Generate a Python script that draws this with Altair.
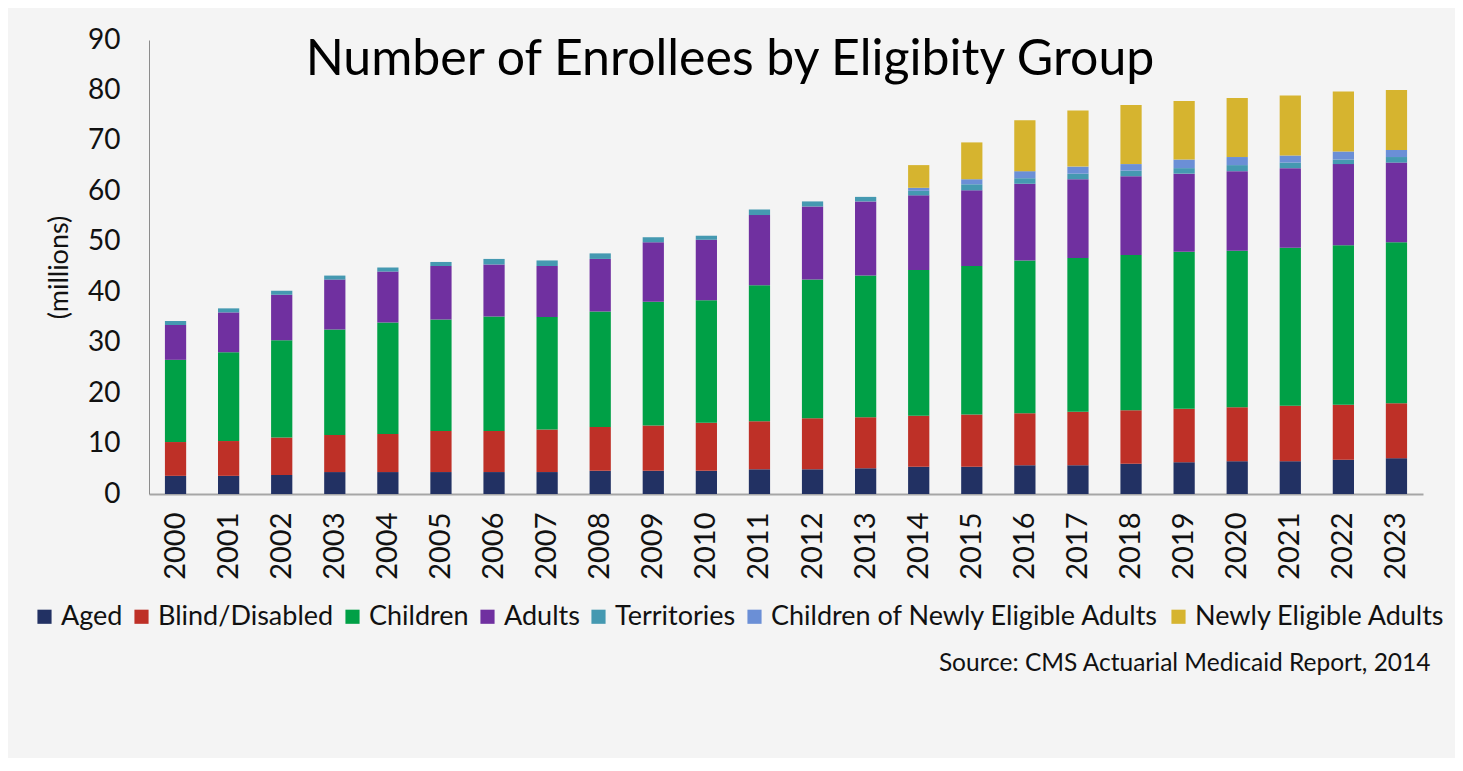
import altair as alt
import pandas as pd

years = ["2000", "2001", "2002", "2003", "2004", "2005", "2006", "2007", "2008", "2009", "2010", "2011",
         "2012", "2013", "2014", "2015", "2016", "2017", "2018", "2019", "2020", "2021", "2022", "2023"]

groups = ["Aged", "Blind/Disabled", "Children", "Adults", "Territories",
          "Children of Newly Eligible Adults", "Newly Eligible Adults"]
colors = ["#223163", "#be3027", "#00a046", "#7030a0", "#4599b1", "#6b8fd6", "#d6b42f"]

aged = [3.6, 3.6, 3.75, 4.35, 4.35, 4.35, 4.35, 4.35, 4.6, 4.6, 4.6, 4.9,
        4.9, 5.1, 5.4, 5.4, 5.7, 5.7, 6.0, 6.3, 6.5, 6.5, 6.8, 7.1]
blind_disabled = [6.7, 6.9, 7.45, 7.35, 7.55, 8.15, 8.15, 8.45, 8.7, 9.0, 9.5, 9.5,
                  10.1, 10.1, 10.1, 10.35, 10.3, 10.6, 10.6, 10.6, 10.7, 11.0, 10.9, 10.9]
children = [16.3, 17.6, 19.3, 20.9, 22.1, 22.1, 22.7, 22.3, 22.9, 24.5, 24.3, 27.0,
            27.5, 28.1, 28.9, 29.45, 30.3, 30.5, 30.8, 31.1, 31.0, 31.3, 31.6, 31.9]
adults = [6.9, 7.9, 9.0, 9.9, 10.1, 10.6, 10.3, 10.1, 10.4, 11.8, 12.0, 13.9,
          14.5, 14.7, 14.8, 15.0, 15.2, 15.6, 15.6, 15.5, 15.8, 15.8, 16.1, 15.8]
territories = [0.8, 0.8, 0.8, 0.8, 0.8, 0.8, 1.1, 1.1, 1.1, 1.0, 0.8, 1.1,
               1.0, 0.9, 0.9, 1.2, 1.1, 1.1, 1.1, 1.1, 1.2, 1.1, 0.9, 1.1]
children_newly_eligible = [0, 0, 0, 0, 0, 0, 0, 0, 0, 0, 0, 0,
                           0, 0, 0.6, 1.0, 1.4, 1.4, 1.3, 1.7, 1.6, 1.4, 1.6, 1.4]
newly_eligible_adults = [0, 0, 0, 0, 0, 0, 0, 0, 0, 0, 0, 0,
                         0, 0, 4.5, 7.3, 10.1, 11.1, 11.7, 11.6, 11.7, 11.9, 11.9, 11.9]

series = [aged, blind_disabled, children, adults, territories,
          children_newly_eligible, newly_eligible_adults]

title_text = "Number of Enrollees by Eligibity Group"
source_text = "Source: CMS Actuarial Medicaid Report, 2014"
y_title = "(millions)"

rows = []
for gi, (g, vals) in enumerate(zip(groups, series)):
    for y, v in zip(years, vals):
        if v > 0:
            rows.append({"Year": y, "Group": g, "Value": v, "order": gi})
df = pd.DataFrame(rows)

FONT = "Lato"

chart = alt.Chart(df).mark_bar().encode(
    x=alt.X("Year:N", sort=years,
            scale=alt.Scale(paddingInner=0.6, paddingOuter=0.3),
            axis=alt.Axis(title=source_text, labelAngle=270, labelFontSize=29,
                          labelFont=FONT, labelColor="#111111", labelPadding=18,
                          ticks=False, domainColor="#a6a6a6", domainWidth=2,
                          labelBaseline="middle", labelAlign="right",
                          titleFont=FONT, titleFontSize=24.5, titleFontWeight="normal",
                          titleColor="#111111", titleAnchor="end", titleAlign="right",
                          titleBaseline="alphabetic", titleX=1281, titleY=176)),
    y=alt.Y("Value:Q", stack="zero",
            scale=alt.Scale(domain=[0, 90]),
            axis=alt.Axis(title=y_title, values=list(range(0, 91, 10)), grid=False,
                          ticks=False, labelPadding=29, labelFontSize=28, labelFont=FONT,
                          labelColor="#111111", domainColor="#8c8c8c",
                          titleFont=FONT, titleFontSize=27, titleFontWeight="normal",
                          titleColor="#111111", titlePadding=14)),
    color=alt.Color("Group:N", sort=groups,
                    scale=alt.Scale(domain=groups, range=colors),
                    legend=alt.Legend(title=None, orient="none", direction="horizontal",
                                      columns=7, legendX=-118, legendY=563,
                                      labelFont=FONT, labelFontSize=27, labelColor="#111111",
                                      symbolType="square", symbolSize=200,
                                      symbolStrokeWidth=0, symbolOpacity=1, labelOffset=3,
                                      columnPadding=5, labelLimit=0)),
    order=alt.Order("order:Q", sort="ascending"),
).properties(
    width=1274,
    height=454,
    title=alt.TitleParams(text=title_text, font=FONT, fontSize=50, fontWeight="normal",
                          color="#000000", anchor="middle", dx=-56, dy=59, offset=-40,
                          baseline="alphabetic"),
    padding={"left": 141, "top": 32, "right": 32, "bottom": 264},
    autosize=alt.AutoSizeParams(type="none"),
    background="#f4f4f4",
).configure_view(stroke=None)

chart.save("out.html", embed_options={"renderer": "svg", "actions": False})
